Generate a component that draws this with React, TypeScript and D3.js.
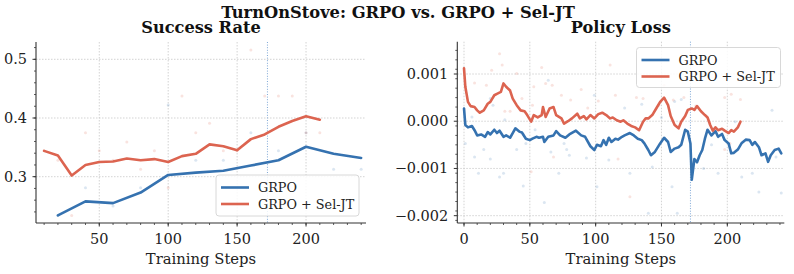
import React from "react";
import * as d3 from "d3";

// success rate, logged every 20 steps (GRPO) / 10 steps (Sel-JT)
const srGrpoSteps = [20, 40, 60, 80, 100, 120, 140, 160, 180, 200, 220, 240];
const srGrpoSmooth = [0.234, 0.258, 0.255, 0.273, 0.303, 0.307, 0.31, 0.319, 0.328, 0.351, 0.339, 0.332];
const srGrpoRaw = [0.234, 0.281, 0.25, 0.281, 0.422, 0.328, 0.328, 0.375, 0.344, 0.375, 0.3125, 0.3125];

const srSelSteps = [10, 20, 30, 40, 50, 60, 70, 80, 90, 100, 110, 120, 130, 140, 150, 160, 170, 180, 190, 200, 210];
const srSelSmooth = [
  0.344, 0.336, 0.302, 0.32, 0.325, 0.326, 0.331, 0.328, 0.33, 0.325, 0.335,
  0.339, 0.355, 0.352, 0.345, 0.364, 0.372, 0.385, 0.395, 0.403, 0.397,
];
const srSelRaw = [
  0.344, 0.328, 0.234, 0.375, 0.344, 0.328, 0.359, 0.3125, 0.344, 0.281, 0.4375,
  0.375, 0.391, 0.344, 0.344, 0.516, 0.4375, 0.4375, 0.4375, 0.375, 0.375,
];

// policy loss, in units of 1e-3
const LOSS_UNIT = 1e-3;
const lossGrpoSteps = [
  0, 1, 3, 6, 8, 10, 13, 16, 18, 20, 23, 25, 27, 30, 32, 35, 37, 39, 42, 44, 47, 50,
  52, 55, 57, 60, 61, 64, 68, 70, 73, 77, 80, 85, 89, 92, 96, 99, 101, 104, 106, 108,
  110, 112, 115, 117, 120, 122, 126, 129, 132, 135, 137, 140, 142, 145, 149, 152, 155,
  157, 160, 163, 165, 168, 170, 172, 173, 175, 177, 179, 181, 183, 185, 188, 191, 193,
  196, 198, 201, 203, 205, 208, 211, 214, 217, 219, 221, 224, 226, 229, 231, 233, 236,
  239, 241,
];
const lossGrpoVals = [
  0.27, -0.08, -0.13, -0.1, -0.19, -0.3, -0.28, -0.33, -0.23, -0.28, -0.18, -0.25, -0.2,
  -0.33, -0.3, -0.35, -0.25, -0.15, -0.22, -0.24, -0.37, -0.4, -0.37, -0.33, -0.35, -0.33,
  -0.44, -0.33, -0.3, -0.21, -0.3, -0.35, -0.28, -0.2, -0.3, -0.33, -0.53, -0.61, -0.5,
  -0.53, -0.4, -0.5, -0.35, -0.44, -0.37, -0.39, -0.33, -0.3, -0.25, -0.3, -0.37, -0.4,
  -0.47, -0.61, -0.72, -0.65, -0.47, -0.35, -0.44, -0.65, -0.58, -0.55, -0.5, -0.18,
  -0.22, -0.47, -1.24, -0.8, -0.87, -0.72, -0.61, -0.37, -0.18, -0.3, -0.21, -0.33,
  -0.27, -0.4, -0.47, -0.68, -0.67, -0.6, -0.46, -0.39, -0.4, -0.5, -0.44, -0.55, -0.72,
  -0.68, -0.86, -0.72, -0.61, -0.58, -0.68,
];

const lossSelSteps = [
  0, 1, 3, 5, 8, 10, 12, 15, 18, 20, 23, 25, 28, 30, 32, 35, 37, 40, 43, 46, 48, 51, 53,
  56, 59, 60, 62, 65, 68, 70, 74, 76, 79, 82, 86, 88, 91, 93, 96, 99, 102, 105, 108, 111,
  113, 116, 119, 121, 124, 127, 130, 133, 136, 138, 140, 143, 146, 149, 152, 155, 157,
  160, 163, 165, 168, 170, 173, 175, 177, 180, 183, 185, 187, 189, 191, 193, 196, 198,
  201, 203, 205, 208, 210,
];
const lossSelVals = [
  1.12, 0.73, 0.41, 0.32, 0.3, 0.23, 0.18, 0.23, 0.37, 0.41, 0.55, 0.58, 0.62, 0.8, 0.73,
  0.65, 0.48, 0.34, 0.23, 0.21, 0.13, -0.01, 0.13, 0.08, 0.13, 0.3, 0.09, 0.27, 0.3, 0.13,
  0.06, -0.05, 0.0, 0.06, 0.16, 0.06, 0.11, 0.04, 0.13, 0.06, 0.15, 0.18, 0.13, 0.06,
  0.08, 0.02, -0.01, 0.02, -0.05, -0.1, -0.13, -0.19, -0.01, 0.06, 0.06, 0.13, 0.27, 0.41,
  0.5, 0.34, 0.11, -0.08, -0.15, -0.01, 0.11, 0.24, 0.27, 0.24, 0.32, 0.21, 0.13, 0.08,
  -0.08, -0.2, -0.13, -0.19, -0.16, -0.2, -0.25, -0.19, -0.22, -0.13, -0.01,
];

// raw per-step loss samples [step, value]
const lossGrpoRaw: [number, number][] = [
  [1, -0.47], [6, 0.09], [8, -0.76], [11, -1.1], [15, -0.6], [20, -0.8], [22, 0.34],
  [20, 0.48], [27, -1.18], [30, -1.1], [31, 0.03], [40, -0.6], [45, -1.37], [47, -0.47],
  [54, -0.18], [61, -1.72], [64, 0.87], [66, -0.65], [72, -1.1], [76, -0.47], [80, -0.72],
  [78, -0.6], [93, -0.78], [99, 0.55], [101, -1.39], [110, -0.82], [122, 0.28],
  [126, -1.1], [135, 0.36], [140, -1.95], [143, -0.97], [150, 0.08], [158, -1.39],
  [162, -1.95], [160, 0.42], [165, 0.46], [182, -1.0], [188, -0.5], [193, -1.1],
  [206, -0.01], [211, -1.18], [219, -1.1], [224, -1.5], [234, 0.23], [237, -0.76],
  [241, -1.52],
];
const lossSelRaw: [number, number][] = [
  [8, 0.81], [17, 0.76], [21, 1.08], [27, 1.43], [29, 1.19], [31, 0.21], [35, 0.21],
  [40, 1.01], [44, 0.48], [45, -0.28], [51, -1.07], [52, 0.34], [53, 0.73], [59, 1.14],
  [62, 0.8], [67, 0.76], [68, -0.76], [74, 0.55], [81, 0.45], [89, 0.67], [94, 0.28],
  [102, 0.43], [111, 1.19], [115, 0.55], [117, -0.8], [126, -1.6], [131, 0.5], [136, 0.48],
  [148, 0.34], [152, 0.76], [159, 0.45], [167, 0.5], [176, 0.32], [198, 0.5], [198, -0.6],
  [202, -0.47], [203, 0.57], [210, 0.46],
];

const markerStep = 172;
const seriesNames = ["GRPO", "GRPO + Sel-JT"];
const srYTicks = [0.3, 0.4, 0.5];
const lossYTicks = [-0.002, -0.001, 0, 0.001];

const BLUE = "#3572b0";
const RED = "#dc6450";
const FONT = "'DejaVu Serif', serif";

type Series = { pts: [number, number][]; raw: [number, number][]; color: string };

type PanelProps = {
  title: string;
  left: number;
  right: number;
  top: number;
  bottom: number;
  xDomain: [number, number];
  yDomain: [number, number];
  xTicks: number[];
  xMinor: number[];
  yTicks: number[];
  yMinor: number[];
  yFormat: (v: number) => string;
  series: Series[];
  legend: { x: number; y: number; w: number; h: number };
};

function Panel(p: PanelProps) {
  const x = d3.scaleLinear().domain(p.xDomain).range([p.left, p.right]);
  const y = d3.scaleLinear().domain(p.yDomain).range([p.bottom, p.top]);
  const line = d3
    .line<[number, number]>()
    .x((d) => x(d[0]))
    .y((d) => y(d[1]));
  const cx = (p.left + p.right) / 2;
  const lg = p.legend;

  return (
    <g>
      <text x={cx} y={32.5} textAnchor="middle" fontFamily={FONT} fontWeight="bold" fontSize={16.2} fill="#111">
        {p.title}
      </text>
      {/* grid */}
      {p.xTicks.map((t) => (
        <line key={"gx" + t} x1={x(t)} x2={x(t)} y1={p.top} y2={p.bottom} stroke="#c8c8c8" strokeWidth={0.8} strokeDasharray="1.5,1.5" />
      ))}
      {p.yTicks.map((t) => (
        <line key={"gy" + t} x1={p.left} x2={p.right} y1={y(t)} y2={y(t)} stroke="#c8c8c8" strokeWidth={0.8} strokeDasharray="1.5,1.5" />
      ))}
      <line x1={x(markerStep)} x2={x(markerStep)} y1={p.top} y2={p.bottom} stroke="#7ea7d6" strokeWidth={1} strokeDasharray="1,1.6" />
      {/* raw samples */}
      {p.series.map((s, i) => (
        <g key={"raw" + i}>
          {s.raw.map((d, j) => (
            <circle key={j} cx={x(d[0])} cy={y(d[1])} r={1.5} fill={s.color} opacity={0.18} />
          ))}
        </g>
      ))}
      {/* smoothed curves */}
      {p.series.map((s, i) => (
        <path key={"ln" + i} d={line(s.pts) ?? ""} fill="none" stroke={s.color} strokeWidth={2.6} strokeLinejoin="round" strokeLinecap="round" />
      ))}
      {/* spines */}
      <line x1={p.left} x2={p.left} y1={p.top} y2={p.bottom} stroke="#333" strokeWidth={1.1} />
      <line x1={p.left} x2={p.right} y1={p.bottom} y2={p.bottom} stroke="#333" strokeWidth={1.1} />
      {p.xMinor.map((t) => (
        <line key={"xm" + t} x1={x(t)} x2={x(t)} y1={p.bottom} y2={p.bottom + 2} stroke="#333" strokeWidth={0.8} />
      ))}
      {p.yMinor.map((t) => (
        <line key={"ym" + t} x1={p.left - 2} x2={p.left} y1={y(t)} y2={y(t)} stroke="#333" strokeWidth={0.8} />
      ))}
      {p.xTicks.map((t) => (
        <g key={"xt" + t}>
          <line x1={x(t)} x2={x(t)} y1={p.bottom} y2={p.bottom + 3.5} stroke="#333" strokeWidth={1} />
          <text x={x(t)} y={p.bottom + 21} textAnchor="middle" fontFamily={FONT} fontSize={14.5} fill="#222">
            {t}
          </text>
        </g>
      ))}
      {p.yTicks.map((t) => (
        <g key={"yt" + t}>
          <line x1={p.left - 3.5} x2={p.left} y1={y(t)} y2={y(t)} stroke="#333" strokeWidth={1} />
          <text x={p.left - 9} y={y(t) + 5} textAnchor="end" fontFamily={FONT} fontSize={14.5} fill="#222">
            {p.yFormat(t)}
          </text>
        </g>
      ))}
      <text x={cx} y={263.5} textAnchor="middle" fontFamily={FONT} fontSize={14.8} fill="#222">
        Training Steps
      </text>
      {/* legend */}
      <rect x={lg.x} y={lg.y} width={lg.w} height={lg.h} rx={3} fill="#fff" fillOpacity={0.85} stroke="#d4d4d4" strokeWidth={0.9} />
      {p.series.map((s, i) => (
        <g key={"lg" + i}>
          <line x1={lg.x + 5} x2={lg.x + 33} y1={lg.y + 12.5 + i * 16.5} y2={lg.y + 12.5 + i * 16.5} stroke={s.color} strokeWidth={2.6} />
          <text x={lg.x + 42} y={lg.y + 17 + i * 16.5} fontFamily={FONT} fontSize={12.8} fill="#222">
            {seriesNames[i]}
          </text>
        </g>
      ))}
    </g>
  );
}

const zip = (a: number[], b: number[], k = 1): [number, number][] => a.map((v, i) => [v, b[i] * k]);

export default function App() {
  const minorX = d3.range(0, 250, 10);
  const srSeries: Series[] = [
    { pts: zip(srGrpoSteps, srGrpoSmooth), raw: zip(srGrpoSteps, srGrpoRaw), color: BLUE },
    { pts: zip(srSelSteps, srSelSmooth), raw: zip(srSelSteps, srSelRaw), color: RED },
  ];
  const lossSeries: Series[] = [
    {
      pts: zip(lossGrpoSteps, lossGrpoVals, LOSS_UNIT),
      raw: lossGrpoRaw.map((d) => [d[0], d[1] * LOSS_UNIT] as [number, number]),
      color: BLUE,
    },
    {
      pts: zip(lossSelSteps, lossSelVals, LOSS_UNIT),
      raw: lossSelRaw.map((d) => [d[0], d[1] * LOSS_UNIT] as [number, number]),
      color: RED,
    },
  ];
  const lossFmt = (v: number) => (v < 0 ? "\u2212" : "") + Math.abs(v).toFixed(3);

  return (
    <div style={{ position: "absolute", left: 0, top: 0 }}>
      <svg width={794} height={274} style={{ display: "block", background: "#fff" }}>
        <text x={398} y={18} textAnchor="middle" fontFamily={FONT} fontWeight="bold" fontSize={16.3} fill="#111">
          TurnOnStove: GRPO vs. GRPO + Sel-JT
        </text>
        <Panel
          title="Success Rate"
          left={36}
          right={366}
          top={42}
          bottom={223}
          xDomain={[4.1, 243.5]}
          yDomain={[0.2211, 0.5295]}
          xTicks={[50, 100, 150, 200]}
          xMinor={minorX.filter((t) => t >= 10 && t <= 240)}
          yTicks={srYTicks}
          yMinor={d3.range(0.24, 0.53, 0.02)}
          yFormat={(v) => v.toFixed(1)}
          series={srSeries}
          legend={{ x: 216, y: 175, w: 143, h: 41 }}
        />
        <Panel
          title="Policy Loss"
          left={457.3}
          right={784.3}
          top={41.7}
          bottom={223}
          xDomain={[-5.1, 243.3]}
          yDomain={[-0.002155, 0.001684]}
          xTicks={[0, 50, 100, 150, 200]}
          xMinor={minorX}
          yTicks={lossYTicks}
          yMinor={d3.range(-21, 17, 2).map((v) => v * 1e-4)}
          yFormat={lossFmt}
          series={lossSeries}
          legend={{ x: 636.5, y: 47.5, w: 144, h: 40 }}
        />
      </svg>
    </div>
  );
}
